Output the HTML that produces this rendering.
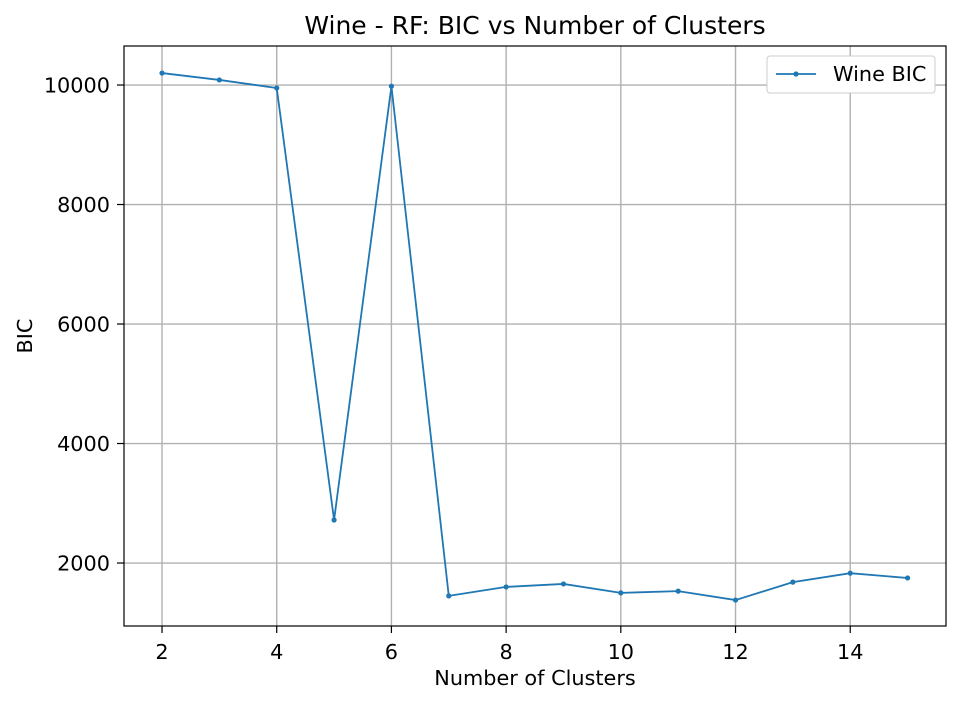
<!DOCTYPE html>
<html><head><meta charset="utf-8"><style>
body{margin:0;background:#fff;}
svg{font-family:"DejaVu Sans","Liberation Sans",sans-serif;}
</style></head><body>
<svg id="chart" width="964" height="704" xmlns="http://www.w3.org/2000/svg"></svg>
<script>
const clusters=[2,3,4,5,6,7,8,9,10,11,12,13,14,15];
const bicValues=[10200,10085,9950,2720,9980,1450,1600,1650,1500,1530,1380,1680,1830,1750];
const xTicks=[2,4,6,8,10,12,14];
const yTicks=[2000,4000,6000,8000,10000];
const L=124,R=946,T=46,B=626;
const xMin=1.337,xMax=15.67,yMin=946,yMax=10653;
const sx=v=>L+(v-xMin)/(xMax-xMin)*(R-L);
const sy=v=>B-(v-yMin)/(yMax-yMin)*(B-T);
const svg=document.getElementById('chart');
const NS='http://www.w3.org/2000/svg';
function mk(tag,attrs,parent){const e=document.createElementNS(NS,tag);for(const k in attrs)e.setAttribute(k,attrs[k]);(parent||svg).appendChild(e);return e;}
const grid=mk('g',{});


xTicks.forEach(t=>{const x=sx(t);
 mk('line',{x1:x,x2:x,y1:T,y2:B,stroke:'#b0b0b0','stroke-width':1.4},grid);
 mk('line',{x1:x,x2:x,y1:B,y2:B+7,stroke:'#000','stroke-width':1.2});
 const tx=mk('text',{x:x,y:B+33,'text-anchor':'middle','font-size':'20.8'});tx.textContent=t;
 
 
});
yTicks.forEach(t=>{const y=sy(t);
 mk('line',{x1:L,x2:R,y1:y,y2:y,stroke:'#b0b0b0','stroke-width':1.4},grid);
 mk('line',{x1:L-7,x2:L,y1:y,y2:y,stroke:'#000','stroke-width':1.2});
 const tx=mk('text',{x:L-14,y:y+7.5,'text-anchor':'end','font-size':'20.8'});tx.textContent=t;
 
 
});
const pts=clusters.map((c,i)=>sx(c)+','+sy(bicValues[i])).join(' ');
const line=mk('polyline',{points:pts,fill:'none',stroke:'#1f77b4','stroke-width':1.8});


clusters.forEach((c,i)=>{const p=mk('circle',{cx:sx(c),cy:sy(bicValues[i]),r:2.6,fill:'#1f77b4'});
 
 
});
const frame=mk('rect',{x:L,y:T,width:R-L,height:B-T,fill:'none',stroke:'#000','stroke-width':1.2});


const title=mk('text',{x:(L+R)/2,y:34,'text-anchor':'middle','font-size':'25'});title.textContent='Wine - RF: BIC vs Number of Clusters';


const xl=mk('text',{x:(L+R)/2,y:685,'text-anchor':'middle','font-size':'20.8'});xl.textContent='Number of Clusters';


const yl=mk('text',{x:32,y:(T+B)/2,'text-anchor':'middle','font-size':'20.8',transform:'rotate(-90 32 '+((T+B)/2)+')'});yl.textContent='BIC';


const lg=mk('g',{});


mk('rect',{x:767,y:56,width:168,height:37,rx:3,fill:'#fff',stroke:'#ccc','stroke-width':1},lg);
mk('line',{x1:776,x2:816,y1:74,y2:74,stroke:'#1f77b4','stroke-width':1.8},lg);
mk('circle',{cx:796,cy:74,r:2.6,fill:'#1f77b4'},lg);
const lt=mk('text',{x:833,y:81,'font-size':'20.8'},lg);lt.textContent='Wine BIC';


</script>
</body></html>
